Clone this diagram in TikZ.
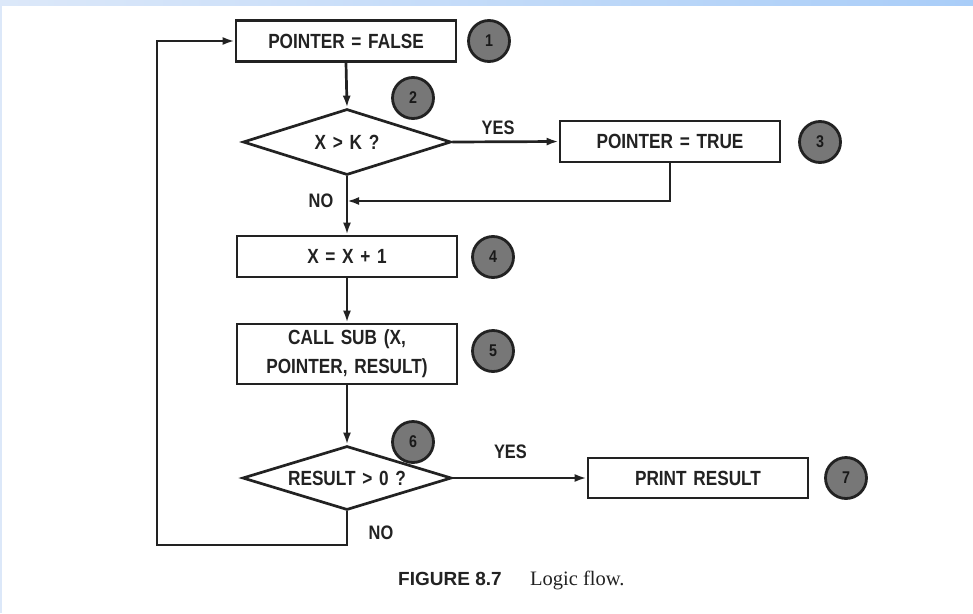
\documentclass[tikz,border=0pt]{standalone}
\usepackage{fontspec}
\setmainfont{Liberation Serif}
\newfontfamily\flowfont[FakeStretch=0.84,WordSpace=1.4]{Liberation Sans}
\newfontfamily\capsans{Liberation Sans}
\usetikzlibrary{arrows.meta,shapes.geometric}
\definecolor{ink}{HTML}{222222}
\definecolor{dotfill}{HTML}{777777}
\definecolor{bandL}{HTML}{DCE8F9}
\definecolor{bandR}{HTML}{A9CDF8}
\tikzset{
  x=1pt, y=-1pt,
  conn/.style={draw=ink, line width=2.7pt},
  arr/.style={conn, -{Latex[length=12pt,width=8pt]}},
  stepbox/.style={draw=ink, line width=2.7pt, fill=white, rectangle, minimum width=220pt, inner sep=0pt, text=ink, font=\flowfont\bfseries\fontsize{20.5}{29}\selectfont, align=center},
  decide/.style={draw=ink, line width=2.7pt, fill=white, diamond, aspect=3.15, inner sep=0pt, text=ink, font=\flowfont\bfseries\fontsize{20.5}{22}\selectfont},
  numdot/.style={circle, draw=ink, line width=2.8pt, fill=dotfill, minimum size=41pt, inner sep=0pt, text=black!90, font=\flowfont\bfseries\fontsize{17}{18}\selectfont},
  lbl/.style={text=ink, inner sep=0pt, font=\flowfont\bfseries\fontsize{19.5}{21}\selectfont}
}
\begin{document}
\begin{tikzpicture}
\useasboundingbox (0,0) rectangle (973,613);
\fill[white] (0,0) rectangle (973,613);
\shade[left color=bandL, right color=bandR] (0,0) rectangle (973,5);
\fill[bandL] (0,5) rectangle (1.5,613);

% nodes
\node[stepbox, minimum height=41pt] (b1) at (346,41) {POINTER = FALSE};
\node[decide, minimum width=208pt, minimum height=66pt] (d1) at (347,142) {X > K ?};
\node[stepbox, minimum height=41pt] (b3) at (670,141.5) {POINTER = TRUE};
\node[stepbox, minimum height=41pt] (b4) at (347,256.5) {X = X + 1};
\node[stepbox, minimum height=60pt] (b5) at (347,354) {CALL SUB (X,\\POINTER, RESULT)};
\node[decide, minimum width=209pt, minimum height=64pt] (d2) at (347,478) {RESULT > 0 ?};
\node[stepbox, minimum height=40pt] (b7) at (698,478) {PRINT RESULT};

\node[numdot] (c1) at (489,41) {1};
\node[numdot] (c2) at (413,98) {2};
\node[numdot] (c3) at (820,142) {3};
\node[numdot] (c4) at (493,257) {4};
\node[numdot] (c5) at (493,351) {5};
\node[numdot] (c6) at (413,442) {6};
\node[numdot] (c7) at (846,478) {7};

\coordinate (j1) at (347,201);
\coordinate (l2) at (157,545);

% connectors
\draw[arr] (b1.south) -- (d1.north);
\draw[arr] (d1.east) -- node[lbl, pos=0.43, above=6pt] (yes1) {YES} (b3.west);
\draw[arr] (b3.south) |- (j1);
\draw[arr] (d1.south) -- (b4.north);
\node[lbl] (no1) at (321,201) {NO};
\draw[arr] (b4.south) -- (b5.north);
\draw[arr] (b5.south) -- (d2.north);
\draw[arr] (d2.east) -- node[lbl, pos=0.43, above=18pt] (yes2) {YES} (b7.west);
\draw[arr] (d2.south) |- (l2) |- (b1.west);
\node[lbl] (no2) at (381,533) {NO};

% caption
\node[anchor=base west, inner sep=0pt, text=ink, font=\capsans\bfseries\fontsize{19}{20}\selectfont] (capA) at (398,585) {FIGURE 8.7};
\node[anchor=base west, inner sep=0pt, text=ink, font=\fontsize{20.5}{22}\selectfont] (capB) at (530,585) {Logic flow.};
\end{tikzpicture}
\end{document}
